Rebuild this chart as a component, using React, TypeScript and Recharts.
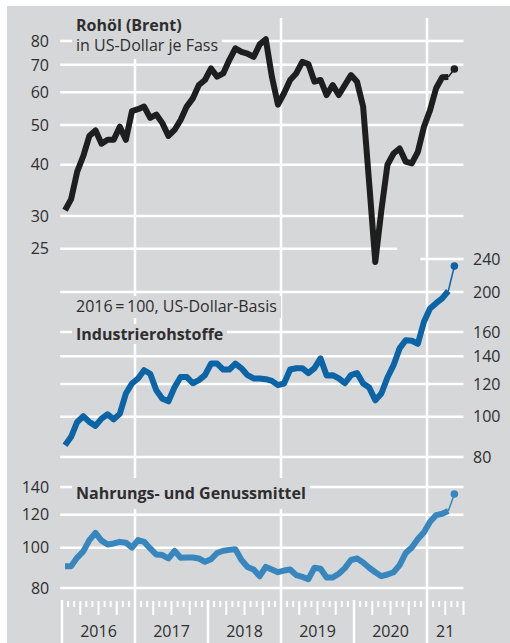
import React from 'react';
import { ComposedChart, Line, XAxis, YAxis, ReferenceLine } from 'recharts';

const FONT = '"Open Sans", "Noto Sans", sans-serif';
const BG = '#d6d7d9';
const GRID = '#ffffff';
const TEXT = '#2e2e2e';
const BLACK = '#1e1e1e';
const BLUE_DARK = '#0a64a5';
const BLUE_LIGHT = '#3787be';

// monthly values, Jan 2016 .. Apr 2021
const YEARS = ['2016', '2017', '2018', '2019', '2020', '21'];

const BRENT = [
  31, 33, 38.5, 42, 47, 48.5, 45, 46, 46, 49.5, 46, 54,
  54.6, 55.4, 52, 53, 50.5, 47, 48.6, 51.4, 55.4, 58, 62.5, 64.3,
  68.6, 65.5, 66.7, 71.9, 76.8, 75.3, 74.5, 73.2, 78.5, 80.8, 65.5, 56,
  59.7, 64.3, 66.7, 71.2, 70.3, 63.7, 64.3, 59.1, 62.5, 59.1, 62.5, 66.1,
  63.7, 55.4, 36, 23.2, 31, 40, 42.6, 43.8, 40.7, 40.3, 43, 49.5,
  54.3, 61.4, 65.3, 65.4,
];

const INDUSTRY = [
  85.4, 89.5, 97.2, 100.3, 97.2, 95.1, 99, 101.4, 98.6, 101.7, 113.8, 120.3,
  123.7, 129.5, 127, 115.9, 110.5, 109, 117.8, 124.8, 124.8, 120.5, 122.6, 126,
  134.4, 134.4, 130, 130, 134.4, 130.9, 126, 123.7, 123.7, 123.2, 122.1, 119.2,
  120.3, 130, 130.9, 131, 127.5, 131, 138.3, 125.7, 126, 123.7, 120.5, 126,
  127.5, 120.3, 117.6, 109.6, 113.8, 124.4, 133.2, 146.2, 153, 152.5, 150, 169.5,
  182.5, 187.9, 193, 201,
];

const FOOD = [
  90.3, 90.3, 94.7, 98, 104.3, 108.6, 104, 101.8, 102.4, 103.3, 102.8, 100.1,
  104.3, 103.3, 99.6, 96.3, 96, 94.2, 98.3, 94.6, 94.7, 94.7, 94.2, 92.5,
  93.8, 97.1, 98.3, 98.8, 99.2, 93.4, 89.9, 88.6, 85.4, 89.9, 88.6, 87.3,
  88.1, 88.6, 85.9, 85.1, 84, 89.5, 89, 84.8, 84.8, 86.6, 89.3, 93.4,
  94.2, 92.1, 89.5, 87.3, 85.4, 86.2, 87.3, 90.8, 97.1, 100.1, 104.9, 109,
  115.5, 119.8, 120.7, 122.5,
];

// latest reading (May 2021)
const BRENT_LATEST = 68.4;
const INDUSTRY_LATEST = 230.8;
const FOOD_LATEST = 134.7;

const BRENT_TICKS = [25, 30, 40, 50, 60, 70, 80];
const INDUSTRY_TICKS = [80, 100, 120, 140, 160, 200, 240];
const FOOD_TICKS = [80, 100, 120, 140];

const N_MONTHS = 66; // axis runs Jan 2016 .. Jun 2021
const MONTH_TICKS = Array.from({ length: N_MONTHS + 1 }, (_, i) => i);

const n = BRENT.length;
const rows = Array.from({ length: n + 1 }, (_, i) => {
  const isLast = i === n;
  const isPrev = i === n - 1;
  return {
    t: i + 0.5,
    brent: isLast ? undefined : BRENT[i],
    industry: isLast ? undefined : INDUSTRY[i],
    food: isLast ? undefined : FOOD[i],
    brentEnd: isLast ? BRENT_LATEST : isPrev ? BRENT[i] : undefined,
    industryEnd: isLast ? INDUSTRY_LATEST : isPrev ? INDUSTRY[i] : undefined,
    foodEnd: isLast ? FOOD_LATEST : isPrev ? FOOD[i] : undefined,
  };
});

function MonthTick(props: any) {
  const { x, y, payload } = props;
  const m = payload.value;
  const yearIdx = Math.floor(m / 12);
  const start = yearIdx * 12;
  const center = (start + Math.min(start + 12, N_MONTHS)) / 2;
  const isYear = m % 12 === 0 && m < N_MONTHS;
  const len = isYear ? 43 : m % 3 === 0 ? 15 : 7;
  return (
    <g>
      <line x1={x} x2={x} y1={y + (isYear ? 0 : 1)} y2={y + len} stroke={GRID} strokeWidth={isYear ? 2.5 : 2} />
      {m === center && YEARS[yearIdx] && (
        <text x={x} y={y + 37} textAnchor="middle" fill={TEXT} fontSize={16} fontFamily={FONT}>
          {YEARS[yearIdx]}
        </text>
      )}
    </g>
  );
}

const endDot = (color: string) => (props: any) => {
  const { cx, cy, payload, index } = props;
  if (payload.t !== n + 0.5 || cy == null) return <g key={`e-${index}`} />;
  return <circle key={`e-${index}`} cx={cx} cy={cy} r={3.8} fill={color} />;
};

const gridLine = (axis: string, v: number, from = -0.3, to = N_MONTHS, label?: string) => (
  <ReferenceLine
    key={`${axis}-${v}`}
    yAxisId={axis}
    segment={[{ x: from, y: v }, { x: to, y: v }]}
    stroke={GRID}
    strokeWidth={2.5}
    ifOverflow="visible"
    label={label ? { value: label, position: 'left', offset: 11, fill: TEXT, fontSize: 16, fontFamily: FONT } : undefined}
  />
);

const boxStyle: React.CSSProperties = {
  position: 'absolute',
  left: 72,
  background: BG,
  padding: '0 4px',
  fontSize: 16,
  lineHeight: '20px',
  color: TEXT,
  whiteSpace: 'nowrap',
  fontFamily: FONT,
};

export default function App() {
  const lineCommon = {
    type: 'linear' as const,
    dot: false,
    activeDot: false,
    isAnimationActive: false,
    strokeLinejoin: 'round' as const,
  };
  const tickStyle = { fill: TEXT, fontSize: 16, fontFamily: FONT };
  return (
    <div style={{ position: 'absolute', left: 0, top: 0, width: 510, height: 643, background: '#fff', overflow: 'hidden' }}>
      <div style={{ position: 'absolute', left: 7, top: 6, width: 503, height: 637, background: BG }} />
      <ComposedChart
        width={510}
        height={643}
        data={rows}
        margin={{ top: 18, right: 0, bottom: 0, left: 0 }}
        style={{ position: 'absolute', left: 0, top: 0 }}
      >
        <XAxis
          type="number"
          dataKey="t"
          domain={[0, N_MONTHS]}
          ticks={MONTH_TICKS}
          interval={0}
          height={43}
          axisLine={false}
          tickLine={false}
          tickSize={0}
          tickMargin={0}
          allowDataOverflow
          tick={(p: any) => <MonthTick key={`m-${p.payload.value}`} {...p} />}
        />
        <YAxis
          yAxisId="brent"
          orientation="left"
          scale="log"
          type="number"
          domain={[3.492, 91.0]}
          ticks={BRENT_TICKS}
          interval={0}
          allowDataOverflow
          width={62}
          axisLine={false}
          tickLine={false}
          tickSize={0}
          tickMargin={13}
          tick={tickStyle}
        />
        <YAxis
          yAxisId="industry"
          orientation="right"
          scale="log"
          type="number"
          domain={[36.18, 914.6]}
          ticks={INDUSTRY_TICKS}
          interval={0}
          allowDataOverflow
          width={46.5}
          axisLine={false}
          tickLine={false}
          tickSize={0}
          tickMargin={9.5}
          tick={tickStyle}
        />
        <YAxis yAxisId="food" hide scale="log" type="number" domain={[74.85, 1881]} allowDataOverflow />

        {[12, 36, 60].map((x) => (
          <ReferenceLine key={`v-${x}`} yAxisId="brent" x={x} stroke={GRID} strokeWidth={2.5} />
        ))}
        {BRENT_TICKS.map((v) => (v === 25 ? gridLine('brent', v, -0.3, 55.1) : gridLine('brent', v)))}
        {INDUSTRY_TICKS.map((v) => (v === 240 ? gridLine('industry', v, 58.9) : gridLine('industry', v)))}
        {FOOD_TICKS.map((v) => gridLine('food', v, -0.3, N_MONTHS, String(v)))}

        <Line {...lineCommon} yAxisId="brent" dataKey="brent" stroke={BLACK} strokeWidth={6} />
        <Line {...lineCommon} yAxisId="brent" dataKey="brentEnd" stroke={BLACK} strokeWidth={1.5} dot={endDot(BLACK)} />
        <Line {...lineCommon} yAxisId="industry" dataKey="industry" stroke={BLUE_DARK} strokeWidth={6} />
        <Line {...lineCommon} yAxisId="industry" dataKey="industryEnd" stroke={BLUE_DARK} strokeWidth={1.5} dot={endDot(BLUE_DARK)} />
        <Line {...lineCommon} yAxisId="food" dataKey="food" stroke={BLUE_LIGHT} strokeWidth={6} />
        <Line {...lineCommon} yAxisId="food" dataKey="foodEnd" stroke={BLUE_LIGHT} strokeWidth={1.5} dot={endDot(BLUE_LIGHT)} />
      </ComposedChart>

      <div style={{ ...boxStyle, top: 15, paddingBottom: 4 }}>
        <div style={{ fontWeight: 700 }}>Rohöl (Brent)</div>
        <div>in US-Dollar je Fass</div>
      </div>
      <div style={{ ...boxStyle, top: 296, paddingBottom: 2 }}>2016{'\u2009'}={'\u2009'}100, US-Dollar-Basis</div>
      <div style={{ ...boxStyle, top: 324, fontWeight: 700 }}>Industrierohstoffe</div>
      <div style={{ ...boxStyle, top: 478, lineHeight: '31px', fontWeight: 700 }}>Nahrungs- und Genussmittel</div>
    </div>
  );
}
